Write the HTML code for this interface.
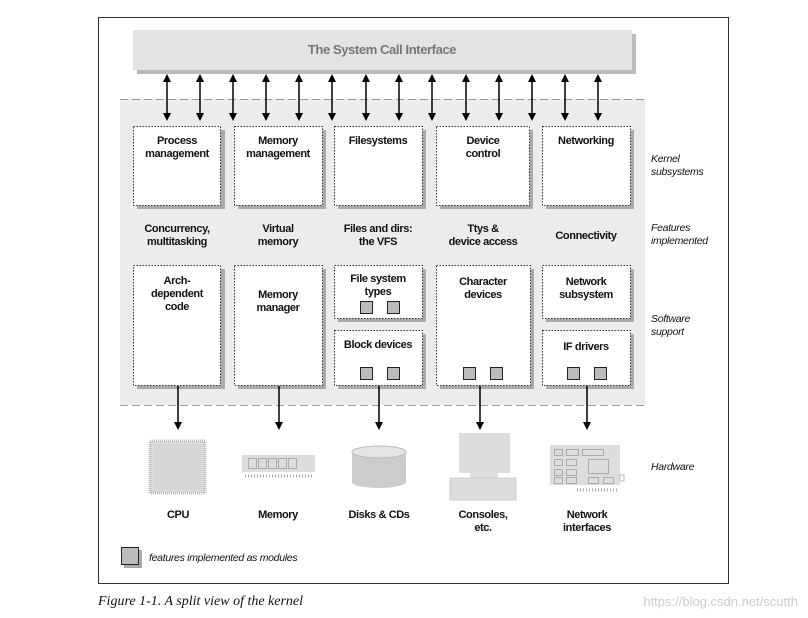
<!DOCTYPE html>
<html><head><meta charset="utf-8"><style>
html,body{margin:0;padding:0;background:#fff;width:808px;height:618px;overflow:hidden}
svg text{font-family:"Liberation Sans Narrow","Liberation Sans",sans-serif;font-weight:bold;font-size:11px;letter-spacing:-0.4px;fill:#111;text-anchor:middle}
svg text.it{font-style:italic;font-weight:normal;font-size:10.5px;letter-spacing:-0.3px;text-anchor:start}
</style></head><body>
<svg width="808" height="618" viewBox="0 0 808 618" xmlns="http://www.w3.org/2000/svg">
<defs>
<marker id="ah" markerWidth="8" markerHeight="8" refX="4" refY="4" orient="auto-start-reverse" markerUnits="userSpaceOnUse"><path d="M0,0 L8,4 L0,8 z" fill="#000"/></marker>
</defs>
<rect x="98.5" y="17.5" width="630" height="566" fill="#fff" stroke="#333"/>
<!-- syscall bar -->
<rect x="137" y="34" width="499" height="40" fill="#bbb"/>
<rect x="133" y="30" width="499" height="40" fill="#e3e3e3"/>
<text x="382" y="54" style="font-size:13px;fill:#777">The System Call Interface</text>
<!-- gray region -->
<rect x="120" y="99" width="525" height="306" fill="#ececec"/>
<line x1="120" y1="99.5" x2="645" y2="99.5" stroke="#999" stroke-dasharray="8,4"/>
<line x1="120" y1="405.5" x2="645" y2="405.5" stroke="#999" stroke-dasharray="8,4"/>
<!-- arrows -->
<g stroke="#000" stroke-width="1.5" marker-start="url(#ah)" marker-end="url(#ah)">
<line x1="167" y1="78" x2="167" y2="117"/><line x1="200" y1="78" x2="200" y2="117"/>
<line x1="233" y1="78" x2="233" y2="117"/><line x1="266" y1="78" x2="266" y2="117"/>
<line x1="299" y1="78" x2="299" y2="117"/><line x1="332" y1="78" x2="332" y2="117"/>
<line x1="366" y1="78" x2="366" y2="117"/><line x1="399" y1="78" x2="399" y2="117"/>
<line x1="432" y1="78" x2="432" y2="117"/><line x1="466" y1="78" x2="466" y2="117"/>
<line x1="499" y1="78" x2="499" y2="117"/><line x1="532" y1="78" x2="532" y2="117"/>
<line x1="565" y1="78" x2="565" y2="117"/><line x1="598" y1="78" x2="598" y2="117"/>
</g>
<!-- boxes -->
<g fill="#aaa">
<rect x="137" y="130" width="88" height="79"/><rect x="238" y="130" width="88" height="79"/>
<rect x="338" y="130" width="88" height="79"/><rect x="440" y="130" width="93" height="79"/>
<rect x="546" y="130" width="88" height="79"/>
<rect x="137" y="269" width="88" height="120"/><rect x="238" y="269" width="88" height="120"/>
<rect x="338" y="269" width="88" height="53"/><rect x="338" y="334" width="88" height="55"/>
<rect x="440" y="269" width="94" height="120"/>
<rect x="546" y="269" width="88" height="53"/><rect x="546" y="334" width="88" height="55"/>
</g>
<g fill="#fff" stroke="#333" stroke-dasharray="1.5,1.5">
<rect x="133.5" y="126.5" width="87" height="79"/><rect x="234.5" y="126.5" width="88" height="79"/>
<rect x="334.5" y="126.5" width="88" height="79"/><rect x="436.5" y="126.5" width="93" height="79"/>
<rect x="542.5" y="126.5" width="88" height="79"/>
<rect x="133.5" y="265.5" width="87" height="120"/><rect x="234.5" y="265.5" width="88" height="120"/>
<rect x="334.5" y="265.5" width="88" height="53"/><rect x="334.5" y="330.5" width="88" height="55"/>
<rect x="436.5" y="265.5" width="94" height="120"/>
<rect x="542.5" y="265.5" width="88" height="53"/><rect x="542.5" y="330.5" width="88" height="55"/>
</g>
<g fill="#bbb" stroke="#222">
<rect x="360.5" y="301.5" width="12" height="12"/><rect x="387.5" y="301.5" width="12" height="12"/>
<rect x="360.5" y="367.5" width="12" height="12"/><rect x="387.5" y="367.5" width="12" height="12"/>
<rect x="463.5" y="367.5" width="12" height="12"/><rect x="490.5" y="367.5" width="12" height="12"/>
<rect x="567.5" y="367.5" width="12" height="12"/><rect x="594.5" y="367.5" width="12" height="12"/>
</g>
<text x="177" y="144">Process</text><text x="177" y="157">management</text>
<text x="278" y="144">Memory</text><text x="278" y="157">management</text>
<text x="378" y="144">Filesystems</text>
<text x="483" y="144">Device</text><text x="483" y="157">control</text>
<text x="586" y="144">Networking</text>
<text x="177" y="232">Concurrency,</text><text x="177" y="245">multitasking</text>
<text x="278" y="232">Virtual</text><text x="278" y="245">memory</text>
<text x="378" y="232">Files and dirs:</text><text x="378" y="245">the VFS</text>
<text x="483" y="232">Ttys &amp;</text><text x="483" y="245">device access</text>
<text x="586" y="239">Connectivity</text>
<text x="177" y="284">Arch-</text><text x="177" y="297">dependent</text><text x="177" y="310">code</text>
<text x="278" y="298">Memory</text><text x="278" y="311">manager</text>
<text x="378" y="282">File system</text><text x="378" y="295">types</text>
<text x="378" y="348">Block devices</text>
<text x="483" y="285">Character</text><text x="483" y="298">devices</text>
<text x="586" y="285">Network</text><text x="586" y="298">subsystem</text>
<text x="586" y="350">IF drivers</text>
<text class="it" x="651" y="162">Kernel</text><text class="it" x="651" y="175">subsystems</text>
<text class="it" x="651" y="231">Features</text><text class="it" x="651" y="244">implemented</text>
<text class="it" x="651" y="322">Software</text><text class="it" x="651" y="335">support</text>
<text class="it" x="651" y="470">Hardware</text>
<text class="it" x="149" y="561">features implemented as modules</text>
<!-- down arrows -->
<g stroke="#000" stroke-width="1.5" marker-end="url(#ah)">
<line x1="178" y1="386" x2="178" y2="426"/><line x1="279" y1="386" x2="279" y2="426"/>
<line x1="379" y1="386" x2="379" y2="426"/><line x1="480" y1="386" x2="480" y2="426"/>
<line x1="587" y1="386" x2="587" y2="426"/>
</g>
<!-- CPU -->
<rect x="150" y="441" width="55" height="52" fill="#ddd" stroke="#bbb" stroke-dasharray="1,1" stroke-width="3"/>
<rect x="153" y="444" width="49" height="46" fill="#d6d6d6"/>
<!-- memory -->
<rect x="242" y="455" width="73" height="17" fill="#ddd"/>
<g fill="none" stroke="#aaa"><rect x="248.5" y="458.5" width="8" height="10"/><rect x="258.5" y="458.5" width="8" height="10"/><rect x="268.5" y="458.5" width="8" height="10"/><rect x="278.5" y="458.5" width="8" height="10"/><rect x="288.5" y="458.5" width="8" height="10"/></g>
<line x1="245" y1="476" x2="313" y2="476" stroke="#aaa" stroke-width="3" stroke-dasharray="1,2"/>
<!-- disks -->
<path d="M352,452 L352,482 A27,6 0 0 0 406,482 L406,452 Z" fill="#ccc"/>
<ellipse cx="379" cy="452" rx="27" ry="6" fill="#e4e4e4" stroke="#bbb"/>
<!-- console -->
<rect x="459" y="433" width="51" height="40" fill="#ddd"/>
<rect x="470" y="473" width="28" height="5" fill="#ddd"/>
<rect x="450" y="478" width="66" height="22" fill="#ddd" stroke="#ccc"/>
<!-- network card -->
<rect x="550" y="445" width="70" height="40" fill="#ddd"/>
<rect x="620" y="475" width="4" height="6" fill="#fff" stroke="#bbb"/>
<g fill="none" stroke="#aaa"><rect x="554.5" y="449.5" width="8" height="6"/><rect x="566.5" y="449.5" width="12" height="6"/><rect x="582.5" y="449.5" width="21" height="6"/><rect x="554.5" y="459.5" width="8" height="6"/><rect x="566.5" y="459.5" width="10" height="6"/><rect x="554.5" y="469.5" width="8" height="6"/><rect x="566.5" y="469.5" width="10" height="6"/><rect x="588.5" y="459.5" width="20" height="14"/><rect x="554.5" y="477.5" width="8" height="6"/><rect x="566.5" y="477.5" width="10" height="6"/><rect x="588.5" y="477.5" width="10" height="6"/><rect x="603.5" y="477.5" width="10" height="6"/></g>
<line x1="577" y1="490" x2="617" y2="490" stroke="#aaa" stroke-width="3" stroke-dasharray="1,2"/>
<text x="178" y="518">CPU</text><text x="278" y="518">Memory</text>
<text x="379" y="518">Disks &amp; CDs</text>
<text x="483" y="518">Consoles,</text><text x="483" y="531">etc.</text>
<text x="587" y="518">Network</text><text x="587" y="531">interfaces</text>
<!-- legend -->
<rect x="124" y="550" width="18" height="18" fill="#aaa"/>
<rect x="121.5" y="547.5" width="17" height="17" fill="#bbb" stroke="#222"/>
<text x="98" y="605" style="font-family:'Liberation Serif',serif;font-style:italic;font-weight:normal;font-size:14px;letter-spacing:0;text-anchor:start">Figure 1-1. A split view of the kernel</text>
<text x="798" y="606" style="font-family:'Liberation Sans',sans-serif;font-weight:normal;font-size:13px;letter-spacing:0;fill:#ccc;text-anchor:end">https://blog.csdn.net/scutth</text>
</svg>
</body></html>
